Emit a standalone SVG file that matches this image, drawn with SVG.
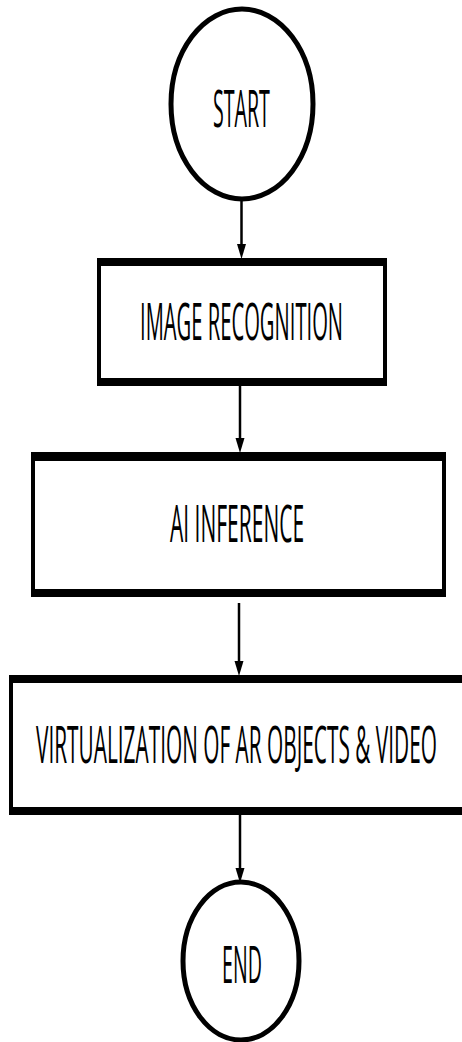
<svg xmlns="http://www.w3.org/2000/svg" width="462" height="1042" viewBox="0 0 462 1042">
  <style>
    .term { fill: #fff; stroke: #000; stroke-width: 5; }
    .frame { fill: #000; }
    .inner { fill: #fff; }
    .label { font-family: "Open Sans", "Liberation Sans", sans-serif; font-size: 52px; fill: #000; }
    .flow { stroke: #000; stroke-width: 2.5; fill: none; }
    .head { fill: #000; }
  </style>
  <rect width="462" height="1042" fill="#fff"/>

  <!-- labels are narrowed horizontally; textLength pins the final width -->
  <g id="start">
    <ellipse class="term" cx="242" cy="104" rx="71" ry="95"/>
    <text class="label" transform="translate(213 127) scale(0.377 1)" textLength="151" lengthAdjust="spacingAndGlyphs">START</text>
  </g>

  <g id="image-recognition">
    <rect class="frame" x="97" y="258" width="290" height="128"/>
    <rect class="inner" x="101" y="266" width="282" height="112"/>
    <text class="label" transform="translate(140 340) scale(0.389 1)" textLength="522" lengthAdjust="spacingAndGlyphs">IMAGE RECOGNITION</text>
  </g>

  <g id="ai-inference">
    <rect class="frame" x="31" y="452" width="415" height="145"/>
    <rect class="inner" x="35" y="461" width="407" height="128"/>
    <text class="label" transform="translate(170 542) scale(0.404 1)" textLength="332" lengthAdjust="spacingAndGlyphs">AI INFERENCE</text>
  </g>

  <g id="virtualization">
    <rect class="frame" x="9" y="675" width="461" height="140"/>
    <rect class="inner" x="13" y="683" width="457" height="124"/>
    <text class="label" transform="translate(36 763) scale(0.4225 1)" textLength="949" lengthAdjust="spacingAndGlyphs">VIRTUALIZATION OF AR OBJECTS &amp; VIDEO</text>
  </g>

  <g id="end">
    <ellipse class="term" cx="241" cy="961" rx="58" ry="79"/>
    <text class="label" transform="translate(222 983) scale(0.376 1)" textLength="106" lengthAdjust="spacingAndGlyphs">END</text>
  </g>

  <g id="connectors">
    <line class="flow" x1="241.5" y1="200" x2="241.5" y2="248"/>
    <polygon class="head" points="237,244 246,244 241.5,259"/>

    <line class="flow" x1="240" y1="386" x2="240" y2="442"/>
    <polygon class="head" points="235.5,438 244.5,438 240,453"/>

    <line class="flow" x1="239" y1="603" x2="239" y2="665"/>
    <polygon class="head" points="234.5,661 243.5,661 239,676"/>

    <line class="flow" x1="240" y1="815" x2="240" y2="872"/>
    <polygon class="head" points="235.5,868 244.5,868 240,883"/>
  </g>
</svg>
